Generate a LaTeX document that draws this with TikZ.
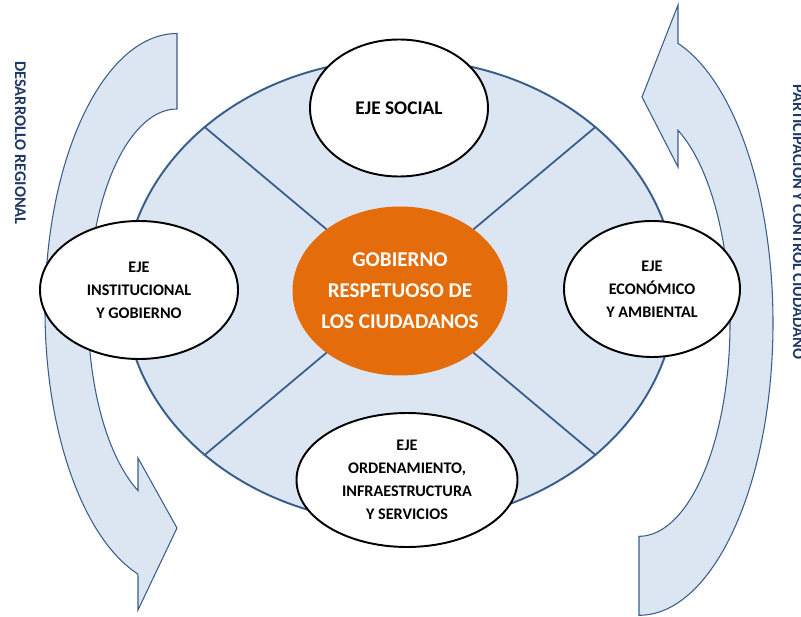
\documentclass[tikz,border=0pt]{standalone}
\usepackage{fontspec}
\setmainfont{Carlito}
\usepackage{xcolor}
\usepackage{tikz}
\usetikzlibrary{shapes.geometric}

\definecolor{ejefill}{RGB}{220,230,242}
\definecolor{ejeline}{RGB}{56,93,138}
\definecolor{ejeorange}{RGB}{228,108,10}
\definecolor{ejetext}{RGB}{31,56,100}

\begin{document}
\begin{tikzpicture}[
    eje/.style={ellipse, draw=black, line width=1.1pt, fill=white, inner sep=0pt, align=center,
      font=\fontsize{9.2}{13}\selectfont\bfseries},
    flecha/.style={fill=ejefill, draw=ejeline, line width=0.6pt},
    lateral/.style={rotate=-90, anchor=base, text=ejetext, font=\fontsize{9.3}{11}\selectfont\bfseries}
  ]
    \useasboundingbox (0,0) rectangle (16.02,12.32);

    % Left arrow (down)
    \draw[flecha] (3.54,11.65) arc[start angle=90, end angle=252.8, x radius=2.64, y radius=5.53]
      -- (2.76,0.12) -- (3.54,1.76) -- (2.76,3.16) -- (2.76,2.507)
      arc[start angle=244, end angle=90, x radius=1.78, y radius=4.02] -- cycle;

    % Right arrow (up)
    \draw[flecha] (12.78,0.014) arc[start angle=-90, end angle=73.08, x radius=2.68, y radius=5.846]
      -- (13.56,12.22) -- (12.84,10.38) -- (13.56,8.98) -- (13.56,9.714)
      arc[start angle=64.62, end angle=-90, x radius=1.82, y radius=4.266] -- cycle;

    % Main ellipse and its four sectors
    \node[ellipse, draw=ejeline, line width=1.1pt, fill=ejefill, inner sep=0pt,
      minimum width=11.04cm, minimum height=9.28cm] (eje) at (8.0,6.5) {};
    \foreach \a in {40,140,220,320}
      \draw[ejeline, line width=1pt] (eje.\a) -- (eje.center);

    % Centre
    \node[ellipse, fill=ejeorange, inner xsep=-3pt, inner ysep=0pt, align=center, text=white,
      minimum width=4.3cm, minimum height=3.38cm, font=\fontsize{12}{17.6}\selectfont\bfseries]
      (gobierno) at (8.0,6.5) {GOBIERNO\\RESPETUOSO DE\\LOS CIUDADANOS};

    % Axes
    \node[eje, minimum width=3.56cm, minimum height=2.74cm, font=\fontsize{11}{13}\selectfont\bfseries]
      (social) at (7.98,10.16) {EJE SOCIAL};
    \node[eje, minimum width=3.96cm, minimum height=2.76cm] (institucional) at (2.78,6.52)
      {EJE\\INSTITUCIONAL\\Y GOBIERNO};
    \node[eje, minimum width=3.52cm, minimum height=2.72cm] (economico) at (13.04,6.54)
      {EJE\\ECONÓMICO\\Y AMBIENTAL};
    \node[eje, minimum width=4.42cm, minimum height=2.68cm] (ordenamiento) at (8.14,2.72)
      {EJE\\ORDENAMIENTO,\\INFRAESTRUCTURA\\Y SERVICIOS};

    % Side labels
    \node[lateral] (desarrollo) at (0.30,9.46) {DESARROLLO REGIONAL};
    \node[lateral] (participacion) at (15.86,7.88) {PARTICIPACIÓN Y CONTROL CIUDADANO};
  \end{tikzpicture}
\end{document}
